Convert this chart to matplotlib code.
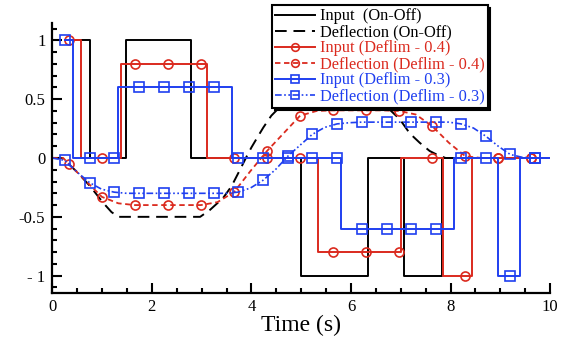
import numpy as np
import matplotlib
matplotlib.use("Agg")
import matplotlib.pyplot as plt
from matplotlib.ticker import MultipleLocator, FixedLocator

plt.rcParams['font.family'] = ['Liberation Serif', 'DejaVu Serif']

# input signals: switch times and levels (held until next switch, end at 10 s)
onoff_sw_t = [0.25, 0.75, 1.48, 2.79, 5.0, 6.35, 7.07, 7.83]
onoff_sw_v = [1, 0, 1, 0, -1, 0, -1, 0]
d04_sw_t = [0.25, 0.58, 1.38, 3.11, 5.33, 7.01, 7.85, 8.43]
d04_sw_v = [1, 0, 0.8, 0, -0.8, 0, -1, 0]
d03_sw_t = [0.25, 0.41, 1.31, 3.61, 5.79, 8.07, 8.95, 9.39]
d03_sw_v = [1, 0, 0.6, 0, -0.6, 0, -1, 0]
t_end = 10.0

# deflection responses
onoff_def_t = [0, 0.2, 0.5, 0.76, 1.02, 1.19, 1.33, 2.97, 3.17, 3.43, 3.6, 3.77,
               3.9, 4.0, 4.14, 4.24, 4.4, 4.54, 4.75, 4.95, 6.55, 6.78, 6.98,
               7.18, 7.38, 7.58, 7.72, 7.9, 10.0]
onoff_def_v = [0, 0, -0.12, -0.24, -0.38, -0.46, -0.5, -0.5, -0.44, -0.34, -0.24, -0.1,
               0.01, 0.09, 0.19, 0.26, 0.36, 0.42, 0.48, 0.5, 0.5, 0.41, 0.33,
               0.21, 0.13, 0.06, 0.03, 0.0, 0.0]

d04_def_t = [0, 0.22, 0.33, 0.662, 0.994, 1.326, 1.658, 1.99, 2.322, 2.654, 2.986,
             3.318, 3.65, 3.982, 4.314, 4.646, 4.978, 5.31, 5.642, 5.974, 6.306,
             6.638, 6.97, 7.302, 7.634, 7.966, 8.298, 8.63, 8.962, 9.294, 9.626, 9.958]
d04_def_v = [0, 0, -0.05, -0.19, -0.33, -0.385, -0.4, -0.4, -0.4, -0.4, -0.4,
             -0.375, -0.29, -0.11, 0.06, 0.21, 0.36, 0.4, 0.405, 0.405, 0.405,
             0.405, 0.4, 0.37, 0.27, 0.13, 0.015, 0.0, 0.0, 0.0, 0.0, 0.0]

d03_def_t = [0, 0.25, 0.5, 0.75, 0.99, 1.24, 1.49, 1.74, 1.99, 2.24, 2.49, 2.74,
             2.99, 3.24, 3.48, 3.73, 3.98, 4.23, 4.48, 4.73, 4.98, 5.22, 5.47,
             5.72, 5.97, 6.22, 6.47, 6.72, 6.97, 7.21, 7.46, 7.71, 7.96, 8.21,
             8.46, 8.71, 8.96, 9.2, 9.45, 9.7, 9.95]
d03_def_v = [0, -0.02, -0.12, -0.21, -0.265, -0.29, -0.3, -0.3, -0.3, -0.3, -0.3, -0.3,
             -0.3, -0.3, -0.3, -0.29, -0.255, -0.19, -0.1, 0.015, 0.11, 0.2, 0.26,
             0.29, 0.3, 0.305, 0.305, 0.305, 0.305, 0.305, 0.305, 0.305, 0.305, 0.29,
             0.255, 0.185, 0.1, 0.03, 0.005, 0.0, 0.0]

# marker times
d04_mark_t = d04_def_t[2::2]
d03_mark_t = d03_def_t[1::2]

ytick_vals = [-1, -0.5, 0, 0.5, 1]
ytick_labels = ['- 1', '-0.5', '0', '0.5', '1']

RED = '#db2a1e'
BLUE = '#1f3ff0'


def step_series(sw_t, sw_v, mark_t):
    t = np.unique(np.concatenate([sw_t, mark_t, [t_end]]))
    idx = np.searchsorted(sw_t, t, side='right') - 1
    v = np.asarray(sw_v, dtype=float)[idx]
    marks = list(np.searchsorted(t, mark_t))
    return t, v, marks


fig = plt.figure(figsize=(5.65, 3.38), dpi=100)
ax = fig.add_axes([0.0926, 0.1322, 0.881, 0.8006])

t, v, _ = step_series(onoff_sw_t, onoff_sw_v, [])
ax.plot(t, v, color='k', lw=1.4, drawstyle='steps-post', label='Input  (On-Off)')
ax.plot(onoff_def_t, onoff_def_v, color='k', lw=1.4, ls=(0, (6, 3.5)),
        label='Deflection (On-Off)')

mk = dict(markersize=6.5, markerfacecolor='none', markeredgewidth=1.2)
t, v, m = step_series(d04_sw_t, d04_sw_v, d04_mark_t)
ax.plot(t, v, color=RED, lw=1.4, drawstyle='steps-post', marker='o', markevery=m,
        label='Input (Deflim - 0.4)', **mk)
ax.plot(d04_def_t, d04_def_v, color=RED, lw=1.3, ls=(0, (3, 2)), marker='o',
        markevery=slice(2, None, 2), label='Deflection (Deflim - 0.4)', **mk)

t, v, m = step_series(d03_sw_t, d03_sw_v, d03_mark_t)
ax.plot(t, v, color=BLUE, lw=1.4, drawstyle='steps-post', marker='s', markevery=m,
        label='Input (Deflim - 0.3)', **mk)
ax.plot(d03_def_t, d03_def_v, color=BLUE, lw=1.2, ls=(0, (4, 1.5, 1, 1.5, 1, 1.5)),
        marker='s', markevery=slice(1, None, 2), label='Deflection (Deflim - 0.3)', **mk)

ax.set_xlim(0, 10)
ax.set_ylim(-1.15, 1.15)
ax.xaxis.set_major_locator(MultipleLocator(2))
ax.xaxis.set_minor_locator(MultipleLocator(0.5))
ax.yaxis.set_major_locator(FixedLocator(ytick_vals))
ax.set_yticklabels(ytick_labels)
ax.yaxis.set_minor_locator(MultipleLocator(0.1))
ax.tick_params(which='both', direction='in', width=1.5, labelsize=12)
ax.tick_params(which='major', length=7)
ax.tick_params(which='minor', length=3.5)
ax.tick_params(axis='y', pad=5)
ax.tick_params(axis='x', pad=4)
for s in ['top', 'right']:
    ax.spines[s].set_visible(False)
for s in ['left', 'bottom']:
    ax.spines[s].set_linewidth(1.6)

ax.set_xlabel('Time (s)', fontsize=17, labelpad=0)

leg = ax.legend(loc='upper left', bbox_to_anchor=(272 / 565, 1 - 5 / 338),
                bbox_transform=fig.transFigure, borderaxespad=0, fontsize=11.8,
                frameon=True, fancybox=False, framealpha=1, edgecolor='k',
                shadow={'color': 'k', 'alpha': 1}, labelcolor='linecolor',
                handlelength=2.4, handletextpad=0.3, borderpad=0.2,
                labelspacing=0.0)
leg.get_frame().set_linewidth(1.5)
for h in leg.legend_handles:
    h.set_markersize(5.5)

fig.savefig('out.png', dpi=100)
